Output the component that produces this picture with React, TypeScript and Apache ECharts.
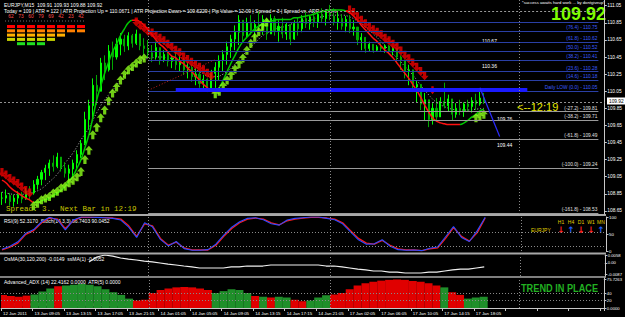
import React, { useEffect, useRef } from "react";
import * as echarts from "echarts";

// ---------- DATA ----------
const timeLabels = ["12 Jan 2011", "13 Jan 09:05", "13 Jan 13:15", "13 Jan 17:05", "13 Jan 21:15", "14 Jan 01:05", "14 Jan 05:05", "14 Jan 09:05", "14 Jan 13:15", "14 Jan 17:15", "14 Jan 21:05", "17 Jan 02:05", "17 Jan 06:05", "17 Jan 10:05", "17 Jan 14:15", "17 Jan 18:05"];
const priceTicks = [111.05, 110.85, 110.65, 110.45, 110.25, 110.05, 109.85, 109.65, 109.45, 109.25, 109.05, 108.85, 108.65];
const currentPrice = 109.92;

const highs = [
  108.87, 108.90, 108.86, 108.84, 108.88, 108.87, 108.92, 108.94, 109.01, 109.06,
  109.13, 109.19, 109.25, 109.30, 109.33, 109.27, 109.22, 109.19, 109.25, 109.36,
  109.48, 109.81, 109.95, 110.20, 110.24, 110.44, 110.47, 110.59, 110.63, 110.67,
  110.73, 110.71, 110.74, 110.72, 110.77, 110.71, 110.67, 110.65, 110.59, 110.63,
  110.56, 110.53, 110.51, 110.47, 110.51, 110.47, 110.44, 110.39, 110.36, 110.32,
  110.28, 110.24, 110.20, 110.30, 110.39, 110.47, 110.53, 110.63, 110.71, 110.82,
  110.94, 110.88, 110.91, 110.94, 110.88, 110.98, 110.94, 110.91, 110.95, 110.93,
  110.88, 110.91, 110.86, 110.82, 110.88, 110.91, 110.94, 110.98, 110.94, 111.00,
  110.98, 111.02, 111.00, 111.06, 111.02, 110.98, 110.95, 110.93, 110.94, 110.88,
  110.79, 110.73, 110.67, 110.63, 110.60, 110.59, 110.61, 110.60, 110.59, 110.57,
  110.53, 110.47, 110.42, 110.36, 110.26, 110.18, 110.09, 110.03, 109.95, 109.91,
  109.97, 109.98, 110.15, 110.01, 109.95, 109.91, 109.95, 109.92, 109.95, 109.98,
  110.02, 110.06, 110.03
];
const lows = [
  108.72, 108.74, 108.71, 108.70, 108.73, 108.74, 108.78, 108.79, 108.84, 108.90,
  108.95, 109.01, 109.06, 109.11, 109.15, 109.11, 109.04, 108.98, 109.04, 109.15,
  109.27, 109.42, 109.60, 109.71, 109.89, 110.06, 110.18, 110.28, 110.30, 110.42,
  110.47, 110.51, 110.53, 110.56, 110.59, 110.53, 110.47, 110.44, 110.39, 110.42,
  110.36, 110.39, 110.34, 110.32, 110.30, 110.28, 110.24, 110.20, 110.16, 110.12,
  110.09, 110.05, 110.04, 110.06, 110.09, 110.18, 110.28, 110.36, 110.44, 110.53,
  110.59, 110.63, 110.67, 110.71, 110.67, 110.74, 110.71, 110.65, 110.72, 110.70,
  110.63, 110.67, 110.65, 110.59, 110.65, 110.70, 110.74, 110.79, 110.77, 110.80,
  110.79, 110.86, 110.82, 110.88, 110.82, 110.77, 110.77, 110.74, 110.73, 110.70,
  110.59, 110.53, 110.50, 110.51, 110.50, 110.51, 110.52, 110.50, 110.49, 110.47,
  110.39, 110.30, 110.20, 110.12, 110.04, 109.92, 109.83, 109.71, 109.63, 109.66,
  109.69, 109.77, 109.85, 109.81, 109.71, 109.74, 109.77, 109.75, 109.81, 109.80,
  109.83, 109.88, 109.90
];
const closes = [
  108.80, 108.83, 108.76, 108.80, 108.84, 108.79, 108.88, 108.86, 108.96, 109.02,
  109.10, 109.15, 109.21, 109.17, 109.28, 109.15, 109.09, 109.14, 109.21, 109.31,
  109.44, 109.72, 109.88, 110.12, 110.05, 110.38, 110.30, 110.52, 110.45, 110.60,
  110.66, 110.58, 110.70, 110.61, 110.72, 110.58, 110.55, 110.50, 110.45, 110.56,
  110.42, 110.48, 110.40, 110.44, 110.36, 110.41, 110.30, 110.33, 110.22, 110.25,
  110.14, 110.19, 110.08, 110.26, 110.33, 110.41, 110.48, 110.57, 110.66, 110.74,
  110.88, 110.70, 110.85, 110.76, 110.83, 110.80, 110.89, 110.72, 110.90, 110.76,
  110.81, 110.72, 110.83, 110.66, 110.84, 110.78, 110.90, 110.84, 110.92, 110.86,
  110.95, 110.90, 110.97, 110.93, 110.86, 110.90, 110.81, 110.89, 110.78, 110.80,
  110.65, 110.68, 110.55, 110.60, 110.53, 110.57, 110.55, 110.58, 110.52, 110.55,
  110.45, 110.41, 110.28, 110.30, 110.10, 110.13, 109.90, 109.95, 109.72, 109.85,
  109.75, 109.93, 109.88, 109.96, 109.78, 109.85, 109.82, 109.90, 109.87, 109.94,
  109.90, 109.97, 109.92
];
const trendMA = [
  109.01, 108.98, 108.93, 108.89, 108.86, 108.83, 108.80, 108.78, 108.75, 108.75,
  108.77, 108.78, 108.80, 108.83, 108.86, 108.89, 108.94, 109.00, 109.06, 109.15,
  109.25, 109.39, 109.54, 109.74, 109.95, 110.11, 110.26, 110.39, 110.51, 110.60,
  110.70, 110.78, 110.85, 110.88, 110.88, 110.86, 110.82, 110.77, 110.71, 110.65,
  110.60, 110.56, 110.51, 110.46, 110.44, 110.40, 110.37, 110.32, 110.28, 110.23,
  110.18, 110.13, 110.09, 110.05, 110.04, 110.09, 110.18, 110.28, 110.38, 110.47,
  110.56, 110.63, 110.68, 110.73, 110.78, 110.81, 110.84, 110.86, 110.87, 110.88,
  110.89, 110.89, 110.89, 110.89, 110.91, 110.91, 110.92, 110.93, 110.94, 110.95,
  110.97, 110.98, 110.99, 111.00, 111.00, 111.00, 111.00, 110.99, 110.97, 110.93,
  110.88, 110.82, 110.77, 110.72, 110.67, 110.63, 110.58, 110.53, 110.49, 110.44,
  110.38, 110.32, 110.26, 110.20, 110.13, 110.06, 109.98, 109.89, 109.81, 109.74,
  109.70, 109.68, 109.67, 109.66, 109.66, 109.66, 109.66, 109.68, 109.71, 109.75,
  109.78, 109.82, 109.84
];
// bar index where the trend MA switches colour (red first)
const maTurns = [8, 33, 54, 87, 116];
// slow dotted MA, one value every two bars
const slowMA = [
  108.87, 108.85, 108.84, 108.85, 108.87, 108.91, 108.99, 109.08, 109.21, 109.33,
  109.48, 109.62, 109.80, 109.95, 110.06, 110.18, 110.28, 110.37, 110.42, 110.44,
  110.45, 110.44, 110.42, 110.37, 110.32, 110.28, 110.23, 110.22, 110.25, 110.32,
  110.42, 110.52, 110.61, 110.70, 110.75, 110.79, 110.81, 110.85, 110.87, 110.88,
  110.91, 110.93, 110.94, 110.94, 110.92, 110.87, 110.80, 110.72, 110.63, 110.53,
  110.44, 110.34, 110.24, 110.12, 110.01, 109.92, 109.87, 109.84, 109.83, 109.83,
  109.84, 109.85
];
// sell signals [bar, price]
const sellSignals = [
  [0, 109.10], [1, 109.07], [2, 109.03], [3, 109.00], [4, 108.97], [5, 108.93], [6, 108.89], [7, 108.86],
  [34, 110.86], [35, 110.82], [36, 110.79], [37, 110.75], [38, 110.73], [39, 110.70], [40, 110.67], [41, 110.64],
  [42, 110.60], [43, 110.57], [44, 110.53], [45, 110.50], [46, 110.45], [47, 110.42], [48, 110.39], [49, 110.36],
  [50, 110.33], [51, 110.30], [52, 110.26], [53, 110.23],
  [88, 111.00], [89, 110.97], [90, 110.92], [91, 110.88], [92, 110.84], [93, 110.80], [94, 110.77], [95, 110.74],
  [96, 110.71], [97, 110.67], [98, 110.64], [99, 110.60], [100, 110.57], [101, 110.52], [102, 110.47], [103, 110.43],
  [104, 110.38], [105, 110.33], [106, 110.28], [107, 110.23]
];
const sellArrow = [[109, 110.06]];
// buy signals [bar, price]
const buySignals = [
  [8, 108.71], [9, 108.74], [10, 108.78], [11, 108.80], [12, 108.82], [13, 108.86], [14, 108.88], [15, 108.92],
  [16, 108.94], [17, 108.98], [18, 109.01], [19, 109.05], [20, 109.11], [21, 109.25], [22, 109.36], [23, 109.54],
  [24, 109.63], [25, 109.74], [26, 109.83], [27, 109.94], [28, 110.03], [29, 110.10], [30, 110.18], [31, 110.25],
  [32, 110.30], [33, 110.34], [34, 110.38], [35, 110.42], [36, 110.44],
  [54, 110.02], [55, 110.05], [56, 110.11], [57, 110.18], [58, 110.24], [59, 110.31], [60, 110.37], [61, 110.44],
  [62, 110.53], [63, 110.61], [64, 110.68], [65, 110.75], [66, 110.81], [67, 110.86],
  [120, 109.74], [121, 109.76], [122, 109.78]
];
// daily fibonacci levels
const fibStart = 37;
const fibEnd = 151;
const fibBlue = [
  { price: 110.86, text: "" },
  { price: 110.75, text: "(76.4) - 110.75" },
  { price: 110.62, text: "(61.8) - 110.62" },
  { price: 110.52, text: "(50.0) - 110.52" },
  { price: 110.41, text: "(38.2) - 110.41" },
  { price: 110.28, text: "(23.6) - 110.28" },
  { price: 110.18, text: "(14.6) - 110.18" },
  { price: 110.05, text: "Daily LOW (0.0) - 110.05" }
];
const fibGray = [
  { price: 109.81, text: "(-27.2) - 109.81" },
  { price: 109.71, text: "(-38.2) - 109.71" },
  { price: 109.49, text: "(-61.8) - 109.49" },
  { price: 109.15, text: "(-100.0) - 109.24" },
  { price: 108.62, text: "(-161.8) - 108.53" }
];
const dailyHigh = 110.98;
const dailyLowBand = { from: 44, to: 133, price: 110.065 };
const projectionLine = [[121, 110.09], [126, 109.52]];
const redTrendLine = [[37, 110.06], [54, 110.42]];
const separators = [37, 83, 131];

// indicators, one value every two bars
const rsiRed = [
  3, 11, 23, 49, 60, 83, 97, 94, 66, 89,
  99, 99, 99, 98, 97, 94, 74, 43, 80, 74,
  37, 17, 26, 9, 3, 3, 3, 17, 43, 66,
  83, 94, 97, 94, 83, 77, 89, 94, 97, 99,
  99, 97, 94, 83, 60, 37, 23, 20, 31, 17,
  6, 3, 3, 1, 6, 9, 37, 69, 43, 29,
  54, 97
];
const rsiBlue = [
  5, 14, 27, 52, 63, 86, 99, 92, 62, 91,
  100, 100, 99, 98, 96, 91, 70, 40, 83, 71,
  34, 15, 28, 7, 2, 2, 4, 20, 47, 70,
  86, 96, 98, 92, 80, 76, 91, 96, 98, 100,
  100, 96, 92, 80, 56, 33, 20, 21, 33, 14,
  4, 2, 3, 1, 8, 12, 42, 72, 40, 28,
  60, 99
];
const rsiLevels = [55, 15];
const rsiTicks = [100, 50, 0];
const osma = [
  null, null, null, null, null, null, null, null, null, null,
  null, 0.0007, 0.0045, 0.0060, 0.0052, 0.0037, 0.0029, 0.0022, 0.0014, 0.0007,
  -0.0001, -0.0009, -0.0016, -0.0024, -0.0031, -0.0039, -0.0039, -0.0039, -0.0039, -0.0031,
  -0.0031, -0.0024, -0.0024, -0.0024, -0.0016, -0.0016, -0.0016, -0.0016, -0.0016, -0.0016,
  -0.0016, -0.0024, -0.0024, -0.0031, -0.0039, -0.0047, -0.0054, -0.0062, -0.0062, -0.0070,
  -0.0070, -0.0077, -0.0077, -0.0077, -0.0070, -0.0070, -0.0062, -0.0054, -0.0047, -0.0047,
  -0.0039, -0.0031
];
const osmaTicks = [0.0058, 0, -0.0087];
const adxValues = [
  35, 32, 30, 33, 36, 44, 52, 58, 60, 62,
  64, 62, 58, 50, 42, 35, 25, 20, 22, 40,
  48, 52, 55, 56, 55, 52, 48, 40, 45, 50,
  48, 40, 32, 30, 28, 30, 28, 22, 18, 20,
  28, 34, 36, 40, 50, 60, 66, 70, 73, 75,
  76, 75, 72, 70, 66, 60, 55, 42, 35, 25,
  28, 30
];
const adxDirs = "rrrrgggrgggggggggrrrrrrrrrrgggggrgrggrrggg" + "rrrrrrrrrrrrrrgrrggg";
const adxTicks = [75.7263, 40, 20, 0];

// ---------- HELPERS ----------
const N = 153;
const cats = Array.from({ length: N }, (_, i) => String(i));
const everyOther = (arr: (number | null)[]) => cats.map((_, i) => (i % 2 === 0 && i / 2 < arr.length ? arr[i / 2] : null));
const FONT = "Liberation Sans, Arial, sans-serif";
const UP = "path://M5 0 L10 5 L7 5 L7 10 L3 10 L3 5 L0 5 Z";
const DOWN = "path://M3 0 L7 0 L7 5 L10 5 L5 10 L0 5 L3 5 Z";
const RED = "#ff1010";
const GREEN = "#00c800";

export default function App() {
  const ref = useRef<HTMLDivElement>(null);
  useEffect(() => {
    if (!ref.current) return;
    const chart = echarts.init(ref.current, null, { renderer: "svg" });

    const candles = closes.map((c, i) => [i > 0 ? closes[i - 1] : c, c, lows[i], highs[i]]);
    const pieces: any[] = [];
    let prev = -Infinity;
    maTurns.concat([Infinity]).forEach((t, j) => {
      pieces.push({ gte: prev, lt: t, color: j % 2 === 0 ? RED : GREEN });
      prev = t;
    });

    const sepLines = () => ({
      silent: true,
      symbol: ["none", "none"],
      label: { show: false },
      lineStyle: { color: "#8a8a8a", type: [1, 2], width: 1 },
      data: separators.map((s) => ({ xAxis: s }))
    });

    const axisLbl = { color: "#ffffff", fontSize: 4.8, fontFamily: FONT, margin: 3 };
    const rightAxisBase = {
      position: "right",
      splitLine: { show: false },
      axisLine: { show: true, lineStyle: { color: "#c8c8c8" } },
      axisTick: { show: true, length: 2.5, lineStyle: { color: "#c8c8c8" } }
    };

    const fibMarks: any[] = [];
    fibBlue.forEach((f) =>
      fibMarks.push([
        {
          coord: [fibStart, f.price],
          lineStyle: { color: "#2a3fa5", width: 1, type: "solid" },
          label: { show: !!f.text, formatter: f.text, position: "insideEndTop", color: "#3a5cff", fontSize: 4.8, fontFamily: FONT, distance: 1 }
        },
        { coord: [fibEnd, f.price] }
      ])
    );
    fibGray.forEach((f) =>
      fibMarks.push([
        {
          coord: [fibStart, f.price],
          lineStyle: { color: "#9a9a9a", width: 1, type: "solid" },
          label: { show: true, formatter: f.text, position: "insideEndTop", color: "#e0e0e0", fontSize: 4.8, fontFamily: FONT, distance: 1 }
        },
        { coord: [fibEnd, f.price] }
      ])
    );
    fibMarks.push([
      { coord: [fibStart, dailyHigh], lineStyle: { color: "#9a9a9a", width: 1, type: [2, 2] }, label: { show: false } },
      { coord: [fibEnd, dailyHigh] }
    ]);
    fibMarks.push({ yAxis: currentPrice, lineStyle: { color: "#909090", width: 1, type: [2, 2] }, label: { show: false } });
    fibMarks.push([
      { coord: [dailyLowBand.from, dailyLowBand.price], lineStyle: { color: "#1a1aff", width: 4, type: "solid" }, label: { show: false } },
      { coord: [dailyLowBand.to, dailyLowBand.price] }
    ]);
    fibMarks.push([
      { coord: projectionLine[0], lineStyle: { color: "#2b2bff", width: 1.2, type: "solid" }, label: { show: false } },
      { coord: projectionLine[1] }
    ]);
    fibMarks.push([
      { coord: redTrendLine[0], lineStyle: { color: "#c02020", width: 1, type: [1, 2] }, label: { show: false } },
      { coord: redTrendLine[1] }
    ]);
    separators.forEach((s) => fibMarks.push({ xAxis: s, lineStyle: { color: "#8a8a8a", width: 1, type: [1, 2] }, label: { show: false } }));

    const txt = (x: number, y: number, text: string, fill = "#ffffff", fontSize = 5, extra: any = {}, el: any = {}) => ({
      type: "text",
      x,
      y,
      silent: true,
      ...el,
      style: { text, fill, fontSize, fontFamily: FONT, ...extra }
    });

    const blockRows = [
      { color: "#ff0000", cols: [0, 1, 2, 3, 4, 5, 6, 7] },
      { color: "#ff8000", cols: [0, 1, 2, 3, 4, 5, 6, 7] },
      { color: "#ffb000", cols: [0, 1, 2, 3, 4, 5] },
      { color: "#c8d400", cols: [0, 1, 2, 3, 4] },
      { color: "#20e020", cols: [1, 2, 3] }
    ];
    const blockNums = ["62", "73", "60", "79", "69", "42", "23", "42"];
    const blocks: any[] = [];
    blockRows.forEach((r, ri) =>
      r.cols.forEach((c) => blocks.push({ type: "rect", silent: true, shape: { x: 7 + c * 10, y: 25 + ri * 4.3, width: 8, height: 3 }, style: { fill: r.color } }))
    );
    blockNums.forEach((n, c) => blocks.push(txt(11 + c * 10, 16.5, n, "#ff4a4a", 4.8, { align: "center", verticalAlign: "middle" })));

    const arrows = [
      { t: "H1", dir: "d" }, { t: "H4", dir: "u" }, { t: "D1", dir: "d" }, { t: "W1", dir: "d" }, { t: "MN", dir: "u" }
    ];
    const arrowEls: any[] = [];
    arrows.forEach((a, i) => {
      const x = 561 + i * 10;
      arrowEls.push(txt(x, 222, a.t, "#e0d000", 5, { align: "center", verticalAlign: "middle" }));
      arrowEls.push(txt(x, 229.5, a.dir === "d" ? "↓" : "↑", a.dir === "d" ? "#ff2020" : "#2060ff", 9, { align: "center", verticalAlign: "middle", fontWeight: "bold", fontFamily: "DejaVu Sans" }));
    });

    const option: any = {
      animation: false,
      backgroundColor: "#000000",
      grid: [
        { left: 0, top: 0, width: 606, height: 214 },
        { left: 0, top: 217, width: 606, height: 34 },
        { left: 0, top: 255, width: 606, height: 21 },
        { left: 0, top: 278, width: 606, height: 30 }
      ],
      xAxis: [0, 1, 2, 3].map((g) => ({
        gridIndex: g,
        type: "category",
        data: cats,
        boundaryGap: true,
        axisLine: { show: g === 3, lineStyle: { color: "#c8c8c8" } },
        axisTick: { show: g === 3, interval: 7, length: 3, lineStyle: { color: "#c8c8c8" } },
        axisLabel: {
          show: g === 3,
          interval: 7,
          align: "left",
          color: "#ffffff",
          fontSize: 4.4,
          fontFamily: FONT,
          margin: 3,
          formatter: (_v: string, idx: number) => timeLabels[idx / 8] || ""
        },
        splitLine: { show: false }
      })),
      yAxis: [
        {
          ...rightAxisBase,
          gridIndex: 0,
          type: "value",
          min: 108.614,
          max: 111.117,
          axisLabel: { ...axisLbl, customValues: priceTicks, formatter: (v: number) => v.toFixed(2) },
          axisTick: { ...rightAxisBase.axisTick, customValues: priceTicks }
        },
        {
          ...rightAxisBase,
          gridIndex: 1,
          type: "value",
          min: 0,
          max: 100,
          axisLabel: { ...axisLbl, fontSize: 4.4, customValues: rsiTicks },
          axisTick: { ...rightAxisBase.axisTick, customValues: rsiTicks }
        },
        {
          ...rightAxisBase,
          gridIndex: 2,
          type: "value",
          min: -0.01,
          max: 0.006,
          axisLabel: { ...axisLbl, fontSize: 4.2, customValues: osmaTicks, formatter: (v: number) => (v === 0 ? "0.00" : v.toFixed(4)) },
          axisTick: { ...rightAxisBase.axisTick, customValues: osmaTicks }
        },
        {
          ...rightAxisBase,
          gridIndex: 3,
          type: "value",
          min: 0,
          max: 80,
          axisLabel: { ...axisLbl, fontSize: 4.2, customValues: adxTicks, formatter: (v: number) => (v === 0 ? "0.0000" : String(v)) },
          axisTick: { ...rightAxisBase.axisTick, customValues: adxTicks }
        }
      ],
      visualMap: [{ type: "piecewise", show: false, dimension: 0, seriesIndex: 1, pieces }],
      series: [
        {
          type: "candlestick",
          xAxisIndex: 0,
          yAxisIndex: 0,
          data: candles,
          barWidth: 1.6,
          itemStyle: { color: "#00ff00", color0: "#00a800", borderColor: "#00ff00", borderColor0: "#00a800", borderWidth: 1 },
          markLine: { silent: true, symbol: ["none", "none"], animation: false, data: fibMarks }
        },
        {
          type: "line",
          xAxisIndex: 0,
          yAxisIndex: 0,
          data: trendMA,
          smooth: true,
          symbol: "none",
          lineStyle: { width: 1.5 },
          z: 3
        },
        {
          type: "line",
          xAxisIndex: 0,
          yAxisIndex: 0,
          data: everyOther(slowMA),
          connectNulls: true,
          smooth: true,
          symbol: "none",
          lineStyle: { width: 1, color: "#b8b8b8", type: [1, 2] },
          z: 2
        },
        {
          type: "scatter",
          xAxisIndex: 0,
          yAxisIndex: 0,
          data: sellSignals,
          symbol: DOWN,
          symbolSize: [8, 9],
          itemStyle: { color: "#ee0000" },
          z: 4
        },
        {
          type: "scatter",
          xAxisIndex: 0,
          yAxisIndex: 0,
          data: sellArrow,
          symbol: DOWN,
          symbolSize: [6, 8],
          itemStyle: { color: "#ff0000" },
          z: 4
        },
        {
          type: "scatter",
          xAxisIndex: 0,
          yAxisIndex: 0,
          data: buySignals,
          symbol: UP,
          symbolSize: [8, 9],
          itemStyle: { color: "#8cff1a" },
          z: 4
        },
        {
          type: "line",
          xAxisIndex: 1,
          yAxisIndex: 1,
          data: everyOther(rsiRed),
          connectNulls: true,
          symbol: "none",
          lineStyle: { width: 1.3, color: "#ff1a1a" },
          markLine: {
            silent: true,
            symbol: ["none", "none"],
            label: { show: false },
            lineStyle: { color: "#8a8a8a", type: [1, 2], width: 1 },
            data: rsiLevels.map((l) => ({ yAxis: l })).concat(separators.map((s) => ({ xAxis: s }) as any))
          }
        },
        {
          type: "line",
          xAxisIndex: 1,
          yAxisIndex: 1,
          data: everyOther(rsiBlue),
          connectNulls: true,
          symbol: "none",
          lineStyle: { width: 1.1, color: "#2a4bff" }
        },
        {
          type: "line",
          xAxisIndex: 2,
          yAxisIndex: 2,
          data: everyOther(osma),
          connectNulls: true,
          symbol: "none",
          lineStyle: { width: 1.2, color: "#f0f0f0" },
          markLine: sepLines()
        },
        {
          type: "bar",
          xAxisIndex: 3,
          yAxisIndex: 3,
          data: everyOther(adxValues).map((v, i) =>
            v === null ? null : { value: v, itemStyle: { color: adxDirs[i / 2] === "r" ? "#e00000" : "#1f8f2a" } }
          ),
          barWidth: 8,
          barGap: "-100%",
          markLine: {
            silent: true,
            symbol: ["none", "none"],
            label: { show: false },
            lineStyle: { color: "#8a8a8a", type: [1, 2], width: 1 },
            data: [{ yAxis: 40 }, { yAxis: 20 }].concat(separators.map((s) => ({ xAxis: s }) as any))
          }
        }
      ],
      graphic: [
        // panel separators
        { type: "rect", silent: true, shape: { x: 0, y: 214, width: 606, height: 2 }, style: { fill: "#a8a8a8" } },
        { type: "rect", silent: true, shape: { x: 0, y: 252.5, width: 606, height: 2 }, style: { fill: "#a8a8a8" } },
        { type: "rect", silent: true, shape: { x: 0, y: 276.2, width: 606, height: 1.6 }, style: { fill: "#a8a8a8" } },
        // header
        txt(4, 2, "EURJPY,M15  109.91 109.93 109.88 109.92"),
        txt(4, 8.5, "Today = 109 | ATR = 122 | ATR Projection Up = 110.0671 | ATR Projection Down = 109.6229 | Pip Value = 12.09 | Spread = 3 | Spread vs. ADR = 2.5%"),
        { type: "line", silent: true, shape: { x1: 5, y1: 21, x2: 86, y2: 21 }, style: { stroke: "#707070", lineWidth: 1, lineDash: [1, 2] } },
        ...blocks,
        txt(522, 0.5, "*success awaits hard work ... by dontgiveup*", "#ffffff", 4.2),
        txt(606, 4.5, "109.92", "#7fff00", 18, { align: "right", fontWeight: "bold" }),
        // side annotations
        txt(482, 38, "110.67"),
        txt(482, 63, "110.36"),
        txt(497, 116, "109.76"),
        txt(497, 142, "109.44"),
        txt(517, 101, "<--12:19", "#e8e800", 11),
        // current price tag
        { type: "rect", silent: true, shape: { x: 607, y: 97.5, width: 18, height: 7 }, style: { fill: "#ffffff" } },
        txt(609, 98.8, "109.92", "#000000", 4.8),
        txt(6, 205, "Spread: 3.. Next Bar in 12:19", "#c8c800", 7.5, { fontFamily: "Liberation Mono, monospace" }),
        // indicator labels
        txt(4, 218.5, "RSI(9) 52.3170  Stoch(14,3,3) 86.7403 90.0452"),
        txt(531, 227, "EURJPY", "#e0d000", 5),
        ...arrowEls,
        txt(4, 256.5, "OsMA(30,120,200) -0.0149  ssMA(1) -0.0052"),
        txt(4, 279.5, "Advanced_ADX (14) 22.4162 0.0000  ATR(5) 0.0000"),
        txt(4, 301.5, "FXOpen MetaTrader, © 2001-2009 MetaQuotes Software Corp."),
        txt(521, 282, "TREND IN PLACE", "#22b022", 11.5, { fontWeight: "bold" }, { scaleX: 0.8 })
      ]
    };
    chart.setOption(option);
    return () => chart.dispose();
  }, []);
  return <div ref={ref} style={{ width: 625, height: 317, position: "absolute", left: 0, top: 0, background: "#000" }} />;
}
